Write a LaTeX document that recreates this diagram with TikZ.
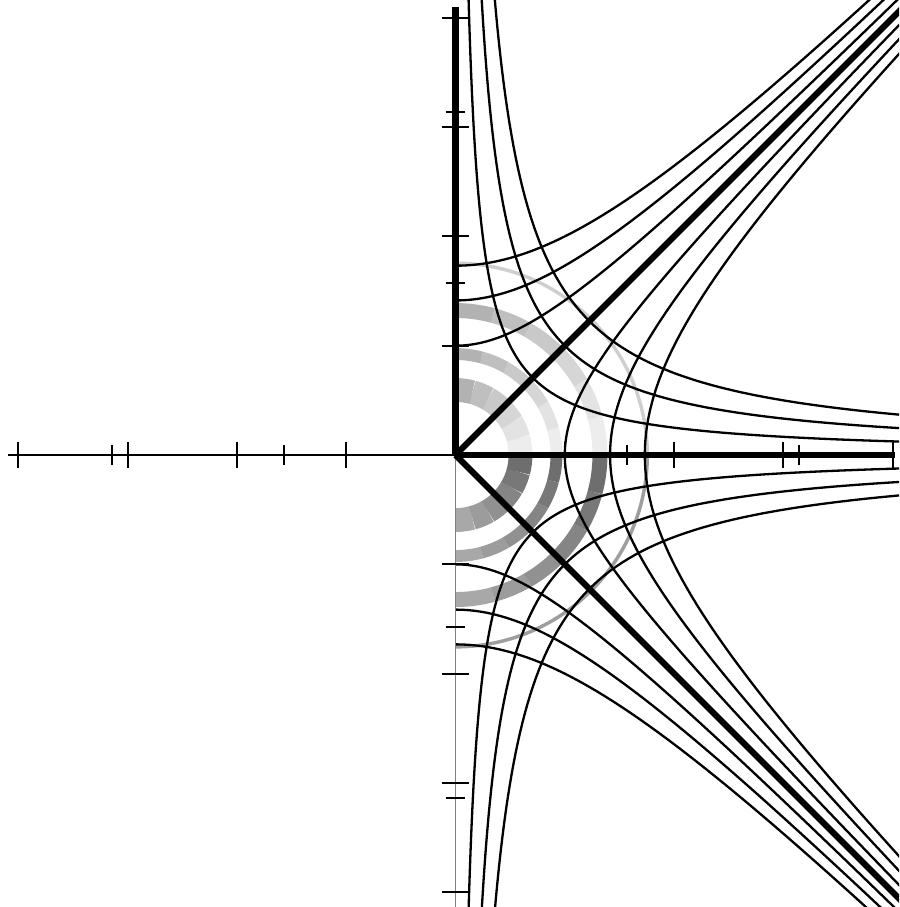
\documentclass[tikz,border=0pt]{standalone}
\usepackage{amsmath,amssymb}
\definecolor{SqMapInk}{HTML}{000000}
\definecolor{SqMapAxisLow}{HTML}{808080}
\definecolor{SqMapRingUpper}{HTML}{CFCFCF}
\definecolor{SqMapRingLower}{HTML}{9E9E9E}

\begin{document}
\begin{tikzpicture}[
  curveline/.style={draw=SqMapInk,line width=0.6pt},
  thickaxis/.style={draw=SqMapInk,line width=1.6pt},
  thinaxis/.style={line width=0.45pt},
  talltick/.style={draw=SqMapInk,line width=0.5pt},
  shorttick/.style={draw=SqMapInk,line width=0.5pt},
  bandarc/.style={line cap=butt}
]
  \useasboundingbox (-4.167,-4.135) rectangle (4.058,4.163);
  \clip (-4.167,-4.135) rectangle (4.058,4.163);
  \coordinate (O) at (0,0);
  \foreach \r/\w in {0.595/6.2pt,0.924/3.1pt,1.322/3.9pt}{
    \foreach \a in {-90,-75,...,75}{
      \pgfmathsetmacro{\m}{\a+7.5}
      \pgfmathsetmacro{\p}{\m>0 ? 2*\m : 360+2*\m}
      \pgfmathtruncatemacro{\g}{5+\p/360*55}
      \draw[bandarc,black!\g,line width=\w] (\a:\r) arc[start angle=\a,end angle=\a+15,radius=\r];
    }
  }
  \draw[SqMapRingUpper,line width=0.9pt] (90:1.755) arc[start angle=90,end angle=0,radius=1.755];
  \draw[SqMapRingLower,line width=0.9pt] (0:1.755) arc[start angle=0,end angle=-90,radius=1.755];
  \foreach \c in {1,2,3}{
    \draw[curveline] plot[domain=-2.3:2.3,samples=121,variable=\t] ({sqrt(\c)*cosh(\t)},{sqrt(\c)*sinh(\t)});
    \draw[curveline] plot[domain=0:2.3,samples=81,variable=\t] ({sqrt(\c)*sinh(\t)},{sqrt(\c)*cosh(\t)});
    \draw[curveline] plot[domain=0:2.3,samples=81,variable=\t] ({sqrt(\c)*sinh(\t)},{-sqrt(\c)*cosh(\t)});
    \draw[curveline] plot[domain=-2.9:2.9,samples=161,variable=\t] ({sqrt(\c/2)*exp(\t)},{sqrt(\c/2)*exp(-\t)});
    \draw[curveline] plot[domain=-2.9:2.9,samples=161,variable=\t] ({sqrt(\c/2)*exp(\t)},{-sqrt(\c/2)*exp(-\t)});
  }
  \draw[thinaxis,SqMapInk] (O) -- (-4.09,0);
  \draw[thinaxis,SqMapAxisLow] (O) -- (0,-4.2);
  \draw[thickaxis] (O) -- (0,4.10);
  \draw[thickaxis] (O) -- (4.02,0);
  \draw[thickaxis] (O) -- (4.3,4.3);
  \draw[thickaxis] (O) -- (4.3,-4.3);
  \foreach \v in {1,2,3,4}{
    \draw[talltick] (\v,-0.12) -- (\v,0.12);
    \draw[talltick] (-\v,-0.12) -- (-\v,0.12);
    \draw[talltick] (-0.12,\v) -- (0.12,\v);
    \draw[talltick] (-0.12,-\v) -- (0.12,-\v);
  }
  \foreach \v in {pi/2,pi}{
    \draw[shorttick] ({\v},-0.09) -- ({\v},0.09);
    \draw[shorttick] ({-\v},-0.09) -- ({-\v},0.09);
    \draw[shorttick] (-0.09,{\v}) -- (0.09,{\v});
    \draw[shorttick] (-0.09,{-\v}) -- (0.09,{-\v});
  }
\end{tikzpicture}
\end{document}
